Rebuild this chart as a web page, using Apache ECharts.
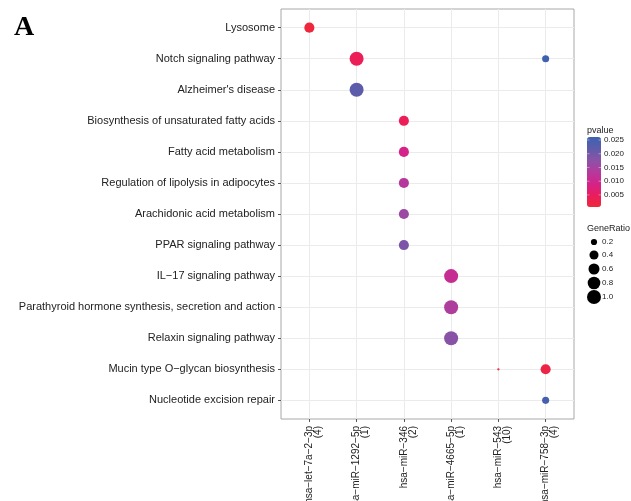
<!DOCTYPE html>
<html>
<head>
<meta charset="utf-8">
<script src="https://cdn.jsdelivr.net/npm/echarts@6/dist/echarts.min.js"></script>
<style>
  html, body { margin: 0; padding: 0; background: #ffffff; }
  #chart { width: 631px; height: 501px; }
</style>
</head>
<body>
<div id="chart"></div>
<script>
// rows, top to bottom
const pathways = [
  'Lysosome',
  'Notch signaling pathway',
  "Alzheimer's disease",
  'Biosynthesis of unsaturated fatty acids',
  'Fatty acid metabolism',
  'Regulation of lipolysis in adipocytes',
  'Arachidonic acid metabolism',
  'PPAR signaling pathway',
  'IL\u221217 signaling pathway',
  'Parathyroid hormone synthesis, secretion and action',
  'Relaxin signaling pathway',
  'Mucin type O\u2212glycan biosynthesis',
  'Nucleotide excision repair'
];
const mirnas = [
  'hsa\u2212let\u22127a\u22122\u22123p',
  'hsa\u2212miR\u22121292\u22125p',
  'hsa\u2212miR\u2212346',
  'hsa\u2212miR\u22124665\u22125p',
  'hsa\u2212miR\u2212543',
  'hsa\u2212miR\u2212758\u22123p'
];
const mirnaCounts = [4, 1, 2, 1, 10, 4];

// one entry per dot
const pointMirna   = [0, 1, 1, 2, 2, 2, 2, 2, 3, 3, 3, 4, 5, 5, 5];
const pointPathway = [0, 1, 2, 3, 4, 5, 6, 7, 8, 9, 10, 11, 11, 1, 12];
const pointRatio   = [0.5, 1.0, 1.0, 0.5, 0.5, 0.5, 0.5, 0.5, 1.0, 1.0, 1.0, 0.1, 0.5, 0.25, 0.25];
const pointPvalue  = [0.001, 0.004, 0.022, 0.004, 0.009, 0.013, 0.016, 0.019, 0.011, 0.014, 0.018, 0.001, 0.002, 0.026, 0.025];

// legend values
const pTicks = [0.005, 0.010, 0.015, 0.020, 0.025];
const ratioTicks = [0.2, 0.4, 0.6, 0.8, 1.0];
const pMin = 0.0006, pMax = 0.0261;
const ratioMin = 0.1;

const palette = ['#F0283A', '#EA1C5E', '#D4238A', '#B43A9C', '#8C52A7', '#5E5CAA', '#3E62B0'];

function dotSize(r) {
  return 2.3 + 11.7 * Math.sqrt(Math.max(0, r - ratioMin) / (1 - ratioMin));
}

const points = pointMirna.map((m, i) => [m + 1, pointPathway[i] + 1, pointRatio[i], pointPvalue[i]]);

const textColor = '#222222';
const legendFont = '"Liberation Sans", Arial, sans-serif';
const barLeft = 587, barTop = 137, barW = 14, barH = 70;

const graphics = [];
graphics.push({ type: 'text', x: 587, y: 131,
  style: { text: 'pvalue', fontSize: 9, fontFamily: legendFont, fill: textColor, verticalAlign: 'middle' } });
pTicks.forEach(v => {
  const y = barTop + barH - (v - pMin) / (pMax - pMin) * barH;
  graphics.push({ type: 'text', x: barLeft + barW + 3, y: y,
    style: { text: v.toFixed(3), fontSize: 8, fontFamily: legendFont, fill: textColor, verticalAlign: 'middle' } });
  graphics.push({ type: 'line', z: 100, shape: { x1: barLeft, y1: y, x2: barLeft + 2.5, y2: y }, style: { stroke: 'rgba(255,255,255,0.5)', lineWidth: 0.8 } });
  graphics.push({ type: 'line', z: 100, shape: { x1: barLeft + barW - 2.5, y1: y, x2: barLeft + barW, y2: y }, style: { stroke: 'rgba(255,255,255,0.5)', lineWidth: 0.8 } });
});
graphics.push({ type: 'text', x: 587, y: 229,
  style: { text: 'GeneRatio', fontSize: 9, fontFamily: legendFont, fill: textColor, verticalAlign: 'middle' } });
const keyY = [242, 255, 269, 283, 297];
ratioTicks.forEach((r, i) => {
  graphics.push({ type: 'circle', shape: { cx: 594, cy: keyY[i], r: dotSize(r) / 2 }, style: { fill: '#000000' } });
  graphics.push({ type: 'text', x: 602, y: keyY[i],
    style: { text: r.toFixed(1), fontSize: 8, fontFamily: legendFont, fill: textColor, verticalAlign: 'middle' } });
});

const chart = echarts.init(document.getElementById('chart'), null, { renderer: 'canvas' });
chart.setOption({
  animation: false,
  backgroundColor: '#ffffff',
  title: {
    text: 'A',
    left: 9,
    top: 9,
    textStyle: { fontFamily: '"Liberation Serif", "DejaVu Serif", serif', fontWeight: 'bold', fontSize: 28, color: '#000000' }
  },
  grid: {
    left: 281, top: 9, right: 57, bottom: 82,
    outerBoundsMode: 'none',
    containLabel: false,
    show: true, borderColor: '#a8a8a8', borderWidth: 1, backgroundColor: '#ffffff'
  },
  xAxis: {
    type: 'value',
    min: 0.4, max: 6.6,
    axisLine: { show: false },
    axisTick: { show: true, length: 3, lineStyle: { color: '#555555' }, customValues: mirnas.map((m, i) => i + 1) },
    splitLine: { show: true, lineStyle: { color: '#ebebeb', width: 1 } },
    axisLabel: {
      customValues: mirnas.map((m, i) => i + 1),
      rotate: 90,
      margin: 7,
      fontSize: 10,
      lineHeight: 9,
      color: textColor,
      fontFamily: '"Liberation Sans", Arial, sans-serif',
      // blank first line keeps the name centred on the tick
      formatter: v => {
        const i = Math.round(v) - 1;
        return ' \n' + mirnas[i] + '\n(' + mirnaCounts[i] + ')';
      }
    }
  },
  yAxis: {
    type: 'value',
    inverse: true,
    min: 0.4, max: 13.6,
    axisLine: { show: false },
    axisTick: { show: true, length: 3, lineStyle: { color: '#555555' }, customValues: pathways.map((p, i) => i + 1) },
    splitLine: { show: true, lineStyle: { color: '#ebebeb', width: 1 } },
    axisLabel: {
      customValues: pathways.map((p, i) => i + 1),
      margin: 6,
      fontSize: 11,
      color: textColor,
      fontFamily: '"Liberation Sans", Arial, sans-serif',
      formatter: v => pathways[Math.round(v) - 1]
    }
  },
  visualMap: {
    type: 'continuous',
    dimension: 3,
    min: pMin, max: pMax,
    left: barLeft, top: barTop,
    itemWidth: barW, itemHeight: barH,
    padding: 0,
    calculable: false,
    text: null,
    showLabel: false,
    seriesIndex: 0,
    inRange: { color: palette }
  },
  graphic: graphics,
  series: [{
    type: 'scatter',
    data: points,
    symbol: 'circle',
    symbolSize: d => dotSize(d[2]),
    itemStyle: { opacity: 1 }
  }]
});
</script>
</body>
</html>
